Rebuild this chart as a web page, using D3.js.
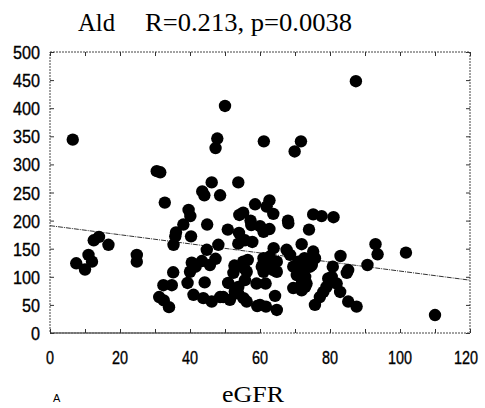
<!DOCTYPE html>
<html lang="en">
<head>
    <meta charset="UTF-8">
    <title>Ald vs eGFR</title>
    <script src="https://d3js.org/d3.v7.min.js"></script>
    <style>
        body { margin: 0; background: #fff; }
        .tick-label { font-family: "Liberation Sans", Arial, sans-serif; font-size: 18px; fill: #000; stroke: #000; stroke-width: 0.35; }
        .title { font-family: "Liberation Serif", "DejaVu Serif", serif; font-size: 25px; fill: #000; }
    </style>
</head>
<body>
    <svg id="chart"></svg>

    <script>
        // eGFR (x) and Ald (y)
        var egfr = [6.5, 7.5, 10, 11, 12, 12.5, 14, 16.7, 24.8, 24.8,
            30.5, 31.5, 32.8, 32.4, 34.8, 31.2, 32.5, 34, 35.2, 35.3, 35.8, 36, 38.1, 39.6, 40.1, 40.3, 39.3, 40, 40.5, 41.6,
            41, 43.8, 46.2, 48.6, 44.2, 43.4, 44.8, 45.7, 47.3, 48.1, 44.9, 43.5, 44.1, 46.2, 48.6, 47.8, 47.3, 50,
            50.8, 53.8, 54.1, 55.2, 57.3, 54, 53.8, 55.7, 57.8, 56.5, 55.2, 52.7, 52.4, 55.5, 56.2, 50.9, 53.8, 52.8, 53.8, 51.4, 55.3, 56.2, 49.5, 55.7, 59.2, 59, 58.6, 57.5,
            61.1, 62.7, 61.9, 63.8, 60, 61, 62.7, 63.9, 62.8, 61, 61, 60.5, 61, 63.3, 63.8, 64.8, 64.8, 61.6, 64.3, 60, 61.7, 64.8, 68.1, 68, 67.6, 68.6, 69.9, 69.5, 69.5,
            71.7, 71.9, 70.5, 70.5, 71.9, 73.3, 72.9, 74.3, 72.6, 71, 72.4, 74.8, 75.7, 72.7, 72.4, 71.9, 72.9, 75.2, 77.6, 74, 75.2, 75.7, 78.1, 79, 77.1, 79.5,
            81, 80.5, 81.9, 82.9, 85.2, 87.6, 84.8, 80.8, 83, 85.2, 87.4, 90.7, 93, 93.6, 101.7, 110];
        var ald = [344, 124, 113, 139, 127, 165, 171, 157, 139, 127,
            288, 286, 232, 85, 85, 64, 58, 46, 108, 157, 172, 179, 193, 219, 208, 172, 89, 109, 125, 118,
            68, 62, 56, 64, 90, 128, 148, 121, 132, 157, 193, 252, 245, 268, 245, 346, 329, 404,
            184, 268, 210, 214, 200, 178, 159, 165, 162, 130, 127, 120, 107, 115, 109, 89, 82, 74, 70, 59, 62, 56, 64, 94, 48, 88, 229, 192,
            341, 236, 225, 212, 190, 180, 185, 151, 136, 133, 124, 118, 109, 124, 112, 127, 109, 88, 66, 50, 47, 41, 195, 200, 148, 139, 323, 118, 80,
            341, 158, 121, 103, 76, 88, 100, 118, 112, 127, 115, 121, 133, 133, 104, 88, 82, 211, 208, 184, 145, 50, 73, 82, 64, 97,
            206, 100, 88, 73, 56, 47, 107, 118, 137, 112, 448, 121, 158, 140, 143, 32];

        // fitted line end points
        var fitX = [0, 120];
        var fitY = [191, 94];

        var xTicks = [0, 20, 40, 60, 80, 100, 120];
        var yTicks = [0, 50, 100, 150, 200, 250, 300, 350, 400, 450, 500];

        var margin = { top: 52, right: 15, bottom: 75, left: 50 },
            width = 485 - margin.left - margin.right,
            height = 408 - margin.top - margin.bottom;

        var root = d3.select("#chart")
            .attr("width", 485)
            .attr("height", 408);

        var svg = root.append("g")
            .attr("transform", "translate(" + margin.left + "," + margin.top + ")");

        var x = d3.scaleLinear().domain([0, 120]).range([0, width]);
        var y = d3.scaleLinear().domain([0, 500]).range([height, 0]);

        // frame (dotted like the scan)
        svg.append("rect")
            .attr("width", width)
            .attr("height", height)
            .attr("fill", "none")
            .attr("stroke", "#444")
            .attr("stroke-width", 1)
            .attr("stroke-dasharray", "2,1");
        svg.append("line")
            .attr("x1", 0).attr("x2", x(60))
            .attr("y1", height).attr("y2", height)
            .attr("stroke", "#666").attr("stroke-width", 1.5);

        // inward ticks on all sides
        var tickLen = 4;
        svg.append("g").call(d3.axisLeft(y).tickValues(yTicks).tickSize(-tickLen).tickFormat(""))
            .call(g => g.select(".domain").remove());
        svg.append("g").attr("transform", "translate(" + width + ",0)")
            .call(d3.axisRight(y).tickValues(yTicks).tickSize(-tickLen).tickFormat(""))
            .call(g => g.select(".domain").remove());
        svg.append("g").attr("transform", "translate(0," + height + ")")
            .call(d3.axisBottom(x).ticks(12).tickSize(-tickLen).tickFormat(""))
            .call(g => g.select(".domain").remove());
        svg.append("g")
            .call(d3.axisTop(x).ticks(12).tickSize(-tickLen).tickFormat(""))
            .call(g => g.select(".domain").remove());
        svg.selectAll(".tick line").attr("stroke", "#333");

        // tick labels (narrow digits like the original)
        svg.selectAll(".ylab")
            .data(yTicks)
            .enter().append("text")
            .attr("class", "tick-label")
            .attr("x", -10)
            .attr("y", d => y(d) + 7)
            .attr("text-anchor", "end")
            .attr("textLength", d => String(d).length * 9)
            .attr("lengthAdjust", "spacingAndGlyphs")
            .text(d => d);

        svg.selectAll(".xlab")
            .data(xTicks)
            .enter().append("text")
            .attr("class", "tick-label")
            .attr("x", d => d === 120 ? x(d) - 4 : x(d))
            .attr("y", height + 31)
            .attr("text-anchor", "middle")
            .attr("textLength", d => String(d).length * 8)
            .attr("lengthAdjust", "spacingAndGlyphs")
            .text(d => d);

        // regression line
        svg.append("line")
            .attr("x1", x(fitX[0])).attr("y1", y(fitY[0]))
            .attr("x2", x(fitX[1])).attr("y2", y(fitY[1]))
            .attr("stroke", "#333")
            .attr("stroke-width", 1)
            .attr("stroke-dasharray", "5,1,1,1");

        // points
        svg.selectAll(".dot")
            .data(egfr.map((d, i) => ({ x: d, y: ald[i] })))
            .enter().append("circle")
            .attr("class", "dot")
            .attr("cx", d => x(d.x))
            .attr("cy", d => y(d.y))
            .attr("r", 6.2)
            .attr("fill", "#000");

        // titles
        root.append("text")
            .attr("class", "title")
            .attr("x", 78)
            .attr("y", 31)
            .attr("textLength", 37)
            .attr("lengthAdjust", "spacingAndGlyphs")
            .text("Ald");
        root.append("text")
            .attr("class", "title")
            .attr("x", 145)
            .attr("y", 31)
            .attr("textLength", 207)
            .attr("lengthAdjust", "spacingAndGlyphs")
            .text("R=0.213, p=0.0038");

        root.append("text")
            .attr("class", "title")
            .attr("x", 222)
            .attr("y", 402)
            .attr("textLength", 62)
            .attr("lengthAdjust", "spacingAndGlyphs")
            .style("font-size", "24px")
            .text("eGFR");

        root.append("text")
            .attr("x", 53)
            .attr("y", 402)
            .style("font-family", "\"Liberation Sans\", sans-serif")
            .style("font-size", "11px")
            .text("A");
    </script>
</body>
</html>
